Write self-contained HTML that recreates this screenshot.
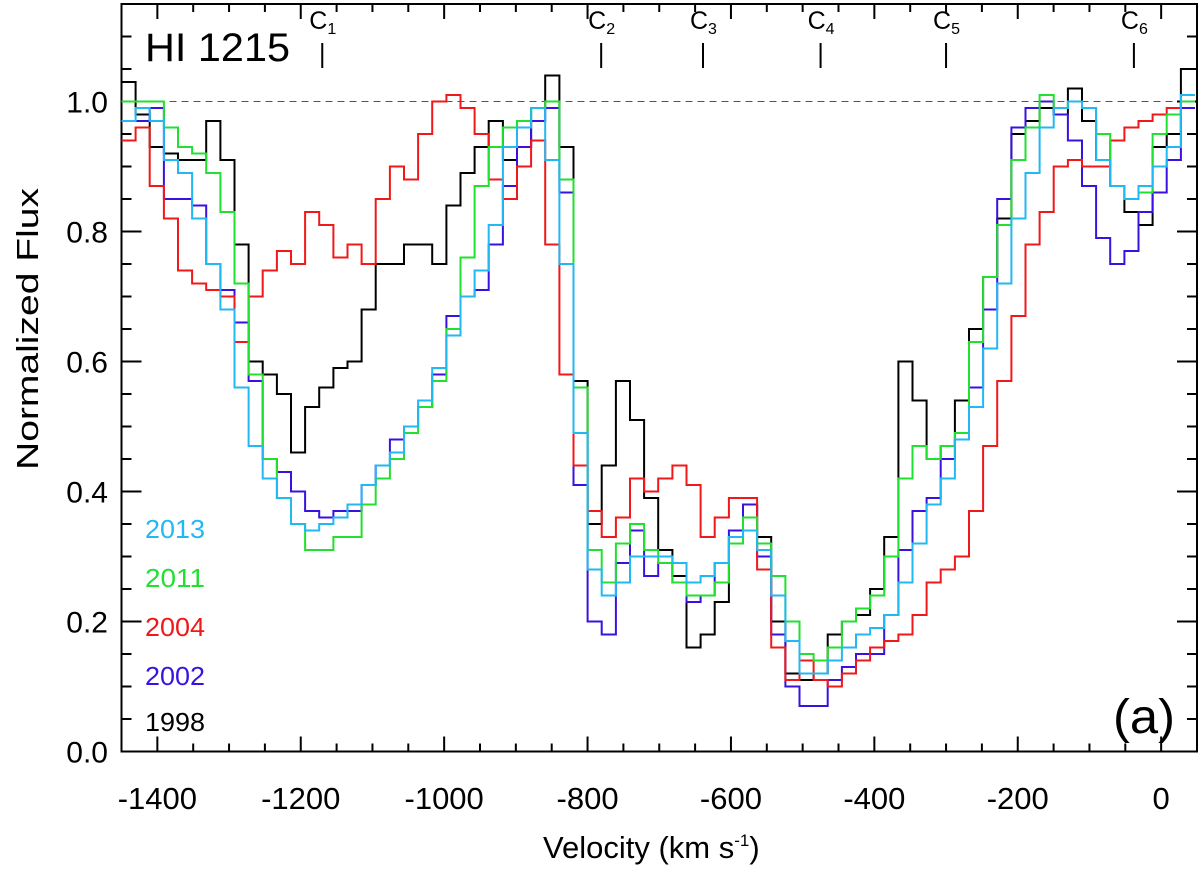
<!DOCTYPE html>
<html><head><meta charset="utf-8"><style>
body{margin:0;background:#fff;}
svg{display:block;font-family:"Liberation Sans",Arial,sans-serif;}
</style></head><body>
<svg id="chart" width="1200" height="869" viewBox="0 0 1200 869" xmlns="http://www.w3.org/2000/svg">
<g id="axes"></g>
<g id="series"></g>
<g id="labels">
  <text x="145" y="61" font-size="40" textLength="145" lengthAdjust="spacingAndGlyphs">HI 1215</text>
  <text x="145" y="538" font-size="26" fill="#22b8f2" textLength="60" lengthAdjust="spacingAndGlyphs">2013</text>
  <text x="145" y="587" font-size="26" fill="#22e030" textLength="60" lengthAdjust="spacingAndGlyphs">2011</text>
  <text x="145" y="636" font-size="26" fill="#f01818" textLength="60" lengthAdjust="spacingAndGlyphs">2004</text>
  <text x="145" y="685" font-size="26" fill="#3a12e0" textLength="60" lengthAdjust="spacingAndGlyphs">2002</text>
  <text x="145" y="731" font-size="26" fill="#000" textLength="60" lengthAdjust="spacingAndGlyphs">1998</text>
  <text x="1113" y="733" font-size="48" textLength="62" lengthAdjust="spacingAndGlyphs">(a)</text>
  <text x="543" y="858" font-size="31">Velocity (km s<tspan font-size="17" dy="-12">-1</tspan><tspan dy="12">)</tspan></text>
  <text transform="translate(38,470) rotate(-90)" x="0" y="0" font-size="31" textLength="282" lengthAdjust="spacingAndGlyphs">Normalized Flux</text>
</g>
</svg>
<script>
const binStart = -1450;
const binWidth = 19.7;
const xTicks = [-1400,-1200,-1000,-800,-600,-400,-200,0];
const yTicks = [0.0,0.2,0.4,0.6,0.8,1.0];
const componentNames = ["1","2","3","4","5","6"];
const componentVel = [-1170,-781,-639,-475,-300,-38];
const flux1998 = [1.03,0.98,0.93,0.92,0.91,0.91,0.97,0.91,0.78,0.60,0.58,0.55,0.46,0.53,0.56,0.59,0.60,0.68,0.75,0.75,0.78,0.78,0.75,0.84,0.89,0.93,0.97,0.91,0.93,0.99,1.04,0.93,
0.57,0.35,0.44,0.57,0.51,0.39,0.31,0.27,0.16,0.18,0.23,0.33,0.38,0.33,0.20,0.12,0.11,0.12,0.18,0.20,0.21,0.25,0.33,0.60,0.54,0.45,0.47,
0.54,0.65,0.73,0.82,0.95,0.97,0.99,0.98,1.02,0.97,0.91,0.87,0.83,0.81,0.93,0.95,1.05];
const flux2004 = [0.94,0.96,0.87,0.82,0.74,0.72,0.71,0.70,0.63,0.70,0.74,0.77,0.75,0.83,0.81,0.76,0.78,0.75,0.85,0.90,0.88,0.95,1.00,1.01,0.99,0.95,0.88,0.85,0.90,0.94,0.78,0.58,
0.44,0.37,0.33,0.36,0.42,0.40,0.42,0.44,0.41,0.33,0.36,0.39,0.39,0.28,0.16,0.11,0.14,0.11,0.10,0.12,0.14,0.16,0.17,0.18,0.21,0.26,0.28,
0.30,0.37,0.47,0.57,0.67,0.78,0.83,0.90,0.91,0.90,0.90,0.94,0.96,0.97,0.98,0.99,1.00];
const flux2011 = [1.00,1.00,1.00,0.96,0.93,0.92,0.89,0.83,0.72,0.58,0.45,0.39,0.35,0.31,0.31,0.33,0.33,0.38,0.42,0.45,0.49,0.53,0.57,0.65,0.76,0.87,0.93,0.96,0.97,0.99,1.00,0.88,
0.56,0.31,0.26,0.32,0.35,0.31,0.29,0.26,0.24,0.24,0.26,0.32,0.36,0.32,0.27,0.20,0.15,0.14,0.16,0.20,0.22,0.24,0.30,0.42,0.47,0.45,0.47,
0.49,0.63,0.73,0.81,0.91,0.96,1.01,0.99,1.00,0.99,0.95,0.87,0.85,0.86,0.95,0.98,1.00];
const flux2002 = [0.97,0.97,0.99,0.85,0.85,0.84,0.75,0.71,0.66,0.57,0.45,0.43,0.40,0.37,0.36,0.37,0.37,0.41,0.44,0.48,0.50,0.53,0.58,0.67,0.70,0.71,0.78,0.87,0.93,0.97,0.99,0.86,
0.41,0.20,0.18,0.29,0.34,0.27,0.29,0.26,0.23,0.24,0.29,0.34,0.38,0.30,0.18,0.10,0.07,0.07,0.11,0.13,0.15,0.15,0.21,0.31,0.37,0.39,0.45,
0.48,0.56,0.68,0.85,0.96,0.99,1.00,0.98,0.94,0.87,0.79,0.75,0.77,0.83,0.86,0.91,0.99];
const flux2013 = [0.97,0.99,0.97,0.91,0.89,0.82,0.75,0.68,0.56,0.47,0.42,0.39,0.35,0.34,0.35,0.36,0.38,0.41,0.44,0.46,0.50,0.54,0.59,0.64,0.70,0.74,0.81,0.93,0.96,0.99,0.91,0.75,
0.49,0.28,0.24,0.26,0.30,0.30,0.30,0.29,0.26,0.27,0.29,0.33,0.34,0.31,0.24,0.17,0.12,0.12,0.14,0.16,0.18,0.19,0.21,0.26,0.32,0.38,0.42,
0.48,0.53,0.62,0.72,0.82,0.89,0.96,0.99,1.00,0.99,0.91,0.87,0.85,0.87,0.90,0.93,1.01];

const L=121.5,R=1197,T=4,B=751.5;
const X0=-1450,X1=50,Y0=0,Y1=1.15;
function sx(v){return L+(v-X0)/(X1-X0)*(R-L);}
function sy(f){return B-(f-Y0)/(Y1-Y0)*(B-T);}
const NS="http://www.w3.org/2000/svg";
function mk(tag,attrs,parent){const e=document.createElementNS(NS,tag);for(const k in attrs)e.setAttribute(k,attrs[k]);parent.appendChild(e);return e;}
const axes=document.getElementById('axes'),ser=document.getElementById('series'),lab=document.getElementById('labels');

const frame=mk('rect',{x:L,y:T,width:R-L,height:B-T,fill:'none',stroke:'#000','stroke-width':2},axes);


const cont=mk('line',{x1:L,x2:R,y1:sy(1),y2:sy(1),stroke:'#555','stroke-width':1,'stroke-dasharray':'7,5'},axes);


for(let v=-1450;v<=50;v+=50){
  const major=(v%200===0);const len=major?15:8;const x=sx(v);
  mk('line',{x1:x,x2:x,y1:B,y2:B-len,stroke:'#000','stroke-width':2},axes);
  mk('line',{x1:x,x2:x,y1:T,y2:T+len,stroke:'#000','stroke-width':2},axes);
}
xTicks.forEach(v=>{
  const t=mk('text',{x:sx(v),y:809,'font-size':31,'text-anchor':'middle',fill:'#000'},lab);
  t.textContent=String(v);
  
  
});
for(let i=0;i<=23;i++){
  const f=i*0.05;const major=(i%4===0);const len=major?20:10;const y=sy(f);
  mk('line',{x1:L,x2:L+len,y1:y,y2:y,stroke:'#000','stroke-width':2},axes);
  mk('line',{x1:R,x2:R-len,y1:y,y2:y,stroke:'#000','stroke-width':2},axes);
}
yTicks.forEach(f=>{
  const t=mk('text',{x:108,y:sy(f)+11,'font-size':30,'text-anchor':'end',fill:'#000'},lab);
  t.textContent=f.toFixed(1);
  
  
});
const seriesList=[[flux1998,'#000000','series-1998'],[flux2002,'#3a12e0','series-2002'],[flux2004,'#f01818','series-2004'],[flux2011,'#22e030','series-2011'],[flux2013,'#22b8f2','series-2013']];
seriesList.forEach(s=>{
  const d=s[0];let p='';
  for(let k=0;k<d.length;k++){
    const xa=sx(binStart+k*binWidth),xb=sx(Math.min(binStart+(k+1)*binWidth,X1)),y=sy(d[k]);
    p+=(k===0?'M':'L')+xa.toFixed(1)+','+y.toFixed(1)+'L'+xb.toFixed(1)+','+y.toFixed(1);
  }
  const path=mk('path',{d:p,fill:'none',stroke:s[1],'stroke-width':2},ser);
  
  
});
componentVel.forEach((v,i)=>{
  const x=sx(v);
  const ln=mk('line',{x1:x,x2:x,y1:43,y2:68,stroke:'#000','stroke-width':2},lab);
  
  
  const t=mk('text',{x:x-13,y:29,'font-size':25,fill:'#000'},lab);
  
  
  t.innerHTML='C<tspan font-size="16" dy="5">'+componentNames[i]+'</tspan>';
});
</script>
</body></html>
